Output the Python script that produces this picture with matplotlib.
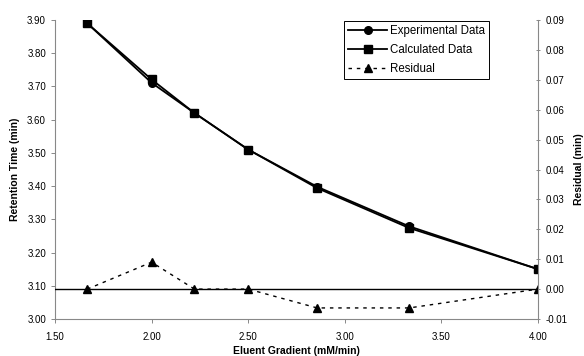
import matplotlib
matplotlib.use("Agg")
import matplotlib.pyplot as plt

plt.rcParams['font.family'] = ['Liberation Sans', 'DejaVu Sans']

gradient = [1.667, 2.0, 2.222, 2.5, 2.857, 3.333, 4.0]
experimental = [3.89, 3.711, 3.62, 3.51, 3.398, 3.279, 3.15]
calculated = [3.89, 3.721, 3.62, 3.51, 3.394, 3.274, 3.15]
residual = [0.000, 0.009, 0.000, 0.000, -0.0063, -0.0063, 0.000]

left_ticks = [3.00, 3.10, 3.20, 3.30, 3.40, 3.50, 3.60, 3.70, 3.80, 3.90]
right_ticks = [-0.01, 0.00, 0.01, 0.02, 0.03, 0.04, 0.05, 0.06, 0.07, 0.08, 0.09]
x_ticks = [1.50, 2.00, 2.50, 3.00, 3.50, 4.00]

fig = plt.figure(figsize=(5.84, 3.56), dpi=100)
ax = fig.add_axes([55/584, 1-319/356, (538-55)/584, (319-20)/356])
ax2 = ax.twinx()

spine_color = '#888888'
l1, = ax.plot(gradient, experimental, '-', color='black', lw=1.3, marker='o', ms=5.5,
              label='Experimental Data')
l2, = ax.plot(gradient, calculated, '-', color='black', lw=1.3, marker='s', ms=5.5,
              label='Calculated Data')
ax2.axhline(0, color='black', lw=1.0)
l3, = ax2.plot(gradient, residual, linestyle=(0, (2.5, 3.5)), color='black', lw=1.0,
               marker='^', ms=6, label='Residual')

ax.set_xlim(1.5, 4.0)
ax.set_ylim(3.0, 3.9)
ax2.set_ylim(-0.01, 0.09)
ax.set_xticks(x_ticks)
ax.set_xticklabels([f'{v:.2f}' for v in x_ticks])
ax.set_yticks(left_ticks)
ax.set_yticklabels([f'{v:.2f}' for v in left_ticks])
ax2.set_yticks(right_ticks)
ax2.set_yticklabels([f'{v:.2f}' for v in right_ticks])

for a in (ax, ax2):
    a.spines['top'].set_visible(False)
    for s in ('left', 'right', 'bottom'):
        a.spines[s].set_color(spine_color)
        a.spines[s].set_linewidth(0.8)
ax.spines['right'].set_visible(False)
ax2.spines['left'].set_visible(False)
ax2.spines['bottom'].set_visible(False)

ax.tick_params(axis='both', labelsize=7, color=spine_color, length=3, width=0.7)
ax.tick_params(axis='x', pad=6)
ax2.tick_params(axis='y', labelsize=7, color=spine_color, length=3, width=0.7,
                direction='inout', pad=4)

ax.set_xlabel('Eluent Gradient (mM/min)', fontsize=7.5, fontweight='bold', labelpad=3)
ax.set_ylabel('Retention Time (min)', fontsize=7.5, fontweight='bold')
ax2.set_ylabel('Residual (min)', fontsize=7.5, fontweight='bold')
ax.yaxis.set_label_coords(-0.072, 0.5)
ax2.yaxis.set_label_coords(1.074, 0.5)

leg = ax.legend(handles=[l1, l2, l3], loc='upper left',
                bbox_to_anchor=((344-55)/483, 1.0 - (21-20)/299),
                fontsize=8.3, frameon=True, fancybox=False, framealpha=1,
                edgecolor='black', handlelength=3.4, borderpad=0.35,
                labelspacing=0.6, handletextpad=0.25, borderaxespad=0)
leg.get_frame().set_linewidth(0.7)

fig.savefig('out.png', dpi=100)
